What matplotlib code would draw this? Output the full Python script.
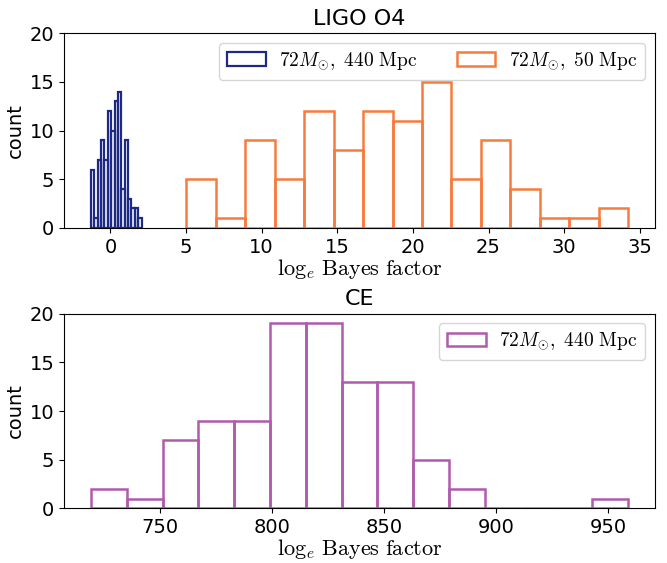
import numpy as np
import matplotlib
matplotlib.use("Agg")
import matplotlib.pyplot as plt

plt.rcParams['mathtext.fontset'] = 'cm'

# LIGO O4, 72 Msun at 440 Mpc (blue)
blue_range = (-1.29, 2.06)
blue_counts = [6, 1, 7, 9, 7, 12, 10, 13, 14, 4, 9, 3, 2, 2, 1]

# LIGO O4, 72 Msun at 50 Mpc (orange)
orange_range = (5.02, 34.23)
orange_counts = [5, 1, 9, 5, 12, 8, 12, 11, 15, 5, 9, 4, 1, 1, 2]

# CE, 72 Msun at 440 Mpc (purple)
ce_range = (719.0, 959.0)
ce_counts = [2, 1, 7, 9, 9, 19, 19, 13, 13, 5, 2, 0, 0, 0, 1]

labels = [r'$72M_{\odot},\ 440\ \mathrm{Mpc}$', r'$72M_{\odot},\ 50\ \mathrm{Mpc}$']
xlabel = r'$\log_e\,\mathrm{Bayes\ factor}$'

c_blue = '#1c2a85'
c_orange = '#f77b3d'
c_purple = '#b05aad'


def draw(ax, rng, counts, color, label, lw):
    edges = np.linspace(rng[0], rng[1], len(counts) + 1)
    centers = 0.5 * (edges[:-1] + edges[1:])
    ax.hist(centers, bins=edges, weights=counts, histtype='bar', fill=False,
            edgecolor=color, linewidth=lw, label=label)


fig, (ax1, ax2) = plt.subplots(2, 1, figsize=(6.67, 5.63), dpi=100)
fig.subplots_adjust(left=0.096, right=0.982, top=0.941, bottom=0.097, hspace=0.44)

draw(ax1, blue_range, blue_counts, c_blue, labels[0], 1.6)
draw(ax1, orange_range, orange_counts, c_orange, labels[1], 1.8)
ax1.set_ylim(0, 20)
ax1.set_yticks([0, 5, 10, 15, 20])
ax1.set_xticks([0, 5, 10, 15, 20, 25, 30, 35])
ax1.set_title('LIGO O4', fontsize=16)
ax1.set_ylabel('count', fontsize=14, labelpad=3)
ax1.set_xlabel(xlabel, fontsize=16, labelpad=0)
ax1.tick_params(labelsize=14)
ax1.legend(loc='upper right', ncol=2, fontsize=14, handlelength=2.0,
           handletextpad=0.7, columnspacing=2.0)

draw(ax2, ce_range, ce_counts, c_purple, labels[0], 1.8)
ax2.set_ylim(0, 20)
ax2.set_yticks([0, 5, 10, 15, 20])
ax2.set_xticks([750, 800, 850, 900, 950])
ax2.set_title('CE', fontsize=16)
ax2.set_ylabel('count', fontsize=14, labelpad=3)
ax2.set_xlabel(xlabel, fontsize=16, labelpad=0)
ax2.tick_params(labelsize=14)
ax2.legend(loc='upper right', fontsize=14, handlelength=2.0, handletextpad=0.7)

fig.savefig('out.png', dpi=100)
